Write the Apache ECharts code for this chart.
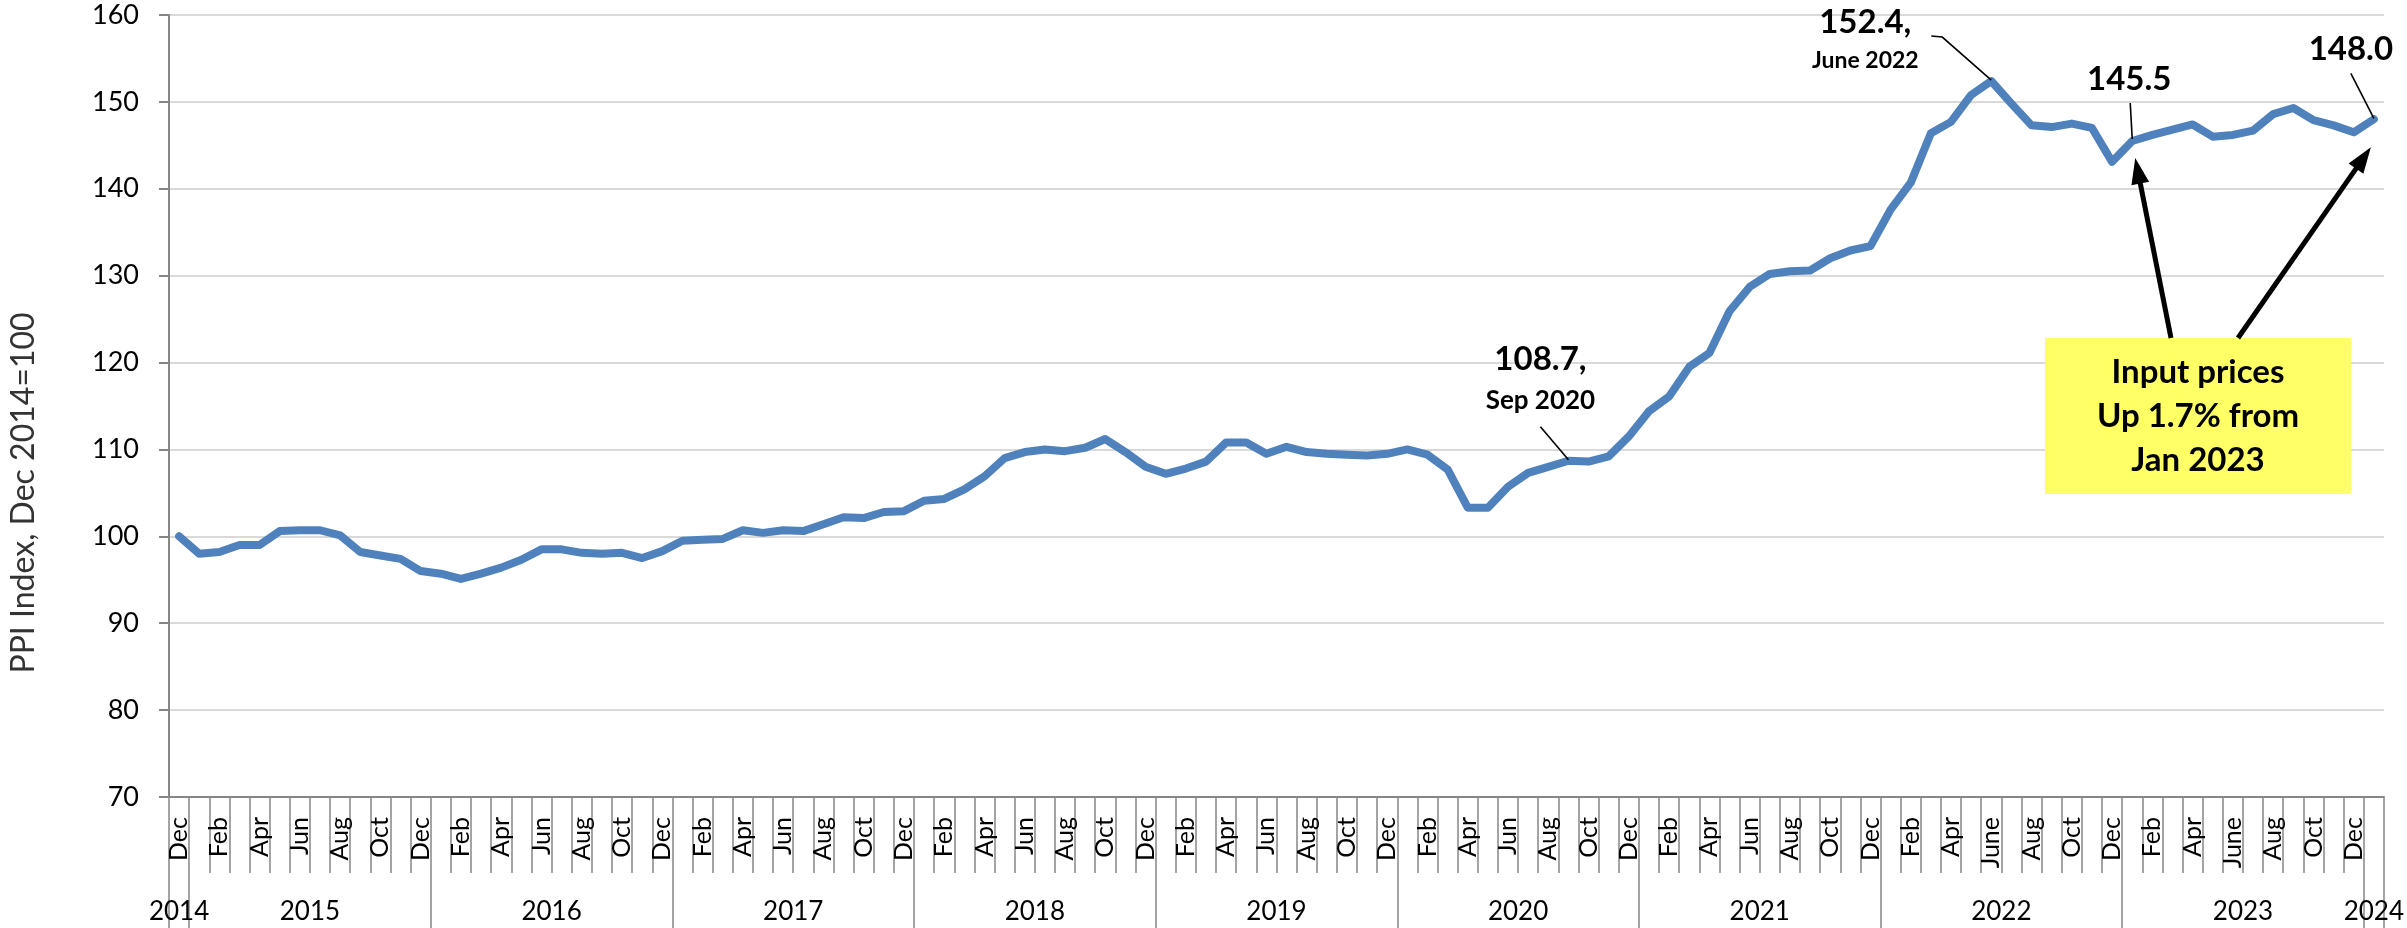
<!DOCTYPE html>
<html>
<head>
<meta charset="utf-8">
<title>PPI Index, Dec 2014=100</title>
<script src="https://cdn.jsdelivr.net/npm/echarts@6/dist/echarts.min.js"></script>
<style>
  html, body { margin: 0; padding: 0; background: #fff; }
  #chart { width: 2407px; height: 928px; }
</style>
</head>
<body>
<div id="chart"></div>
<script>
// monthly PPI index, Dec 2014 = 100
const ppi2014 = [100.0];
const ppi2015 = [98.0, 98.2, 99.0, 99.0, 100.6, 100.7, 100.7, 100.1, 98.2, 97.8, 97.4, 96.0];
const ppi2016 = [95.7, 95.1, 95.7, 96.4, 97.3, 98.5, 98.5, 98.1, 98.0, 98.1, 97.5, 98.3];
const ppi2017 = [99.5, 99.6, 99.7, 100.7, 100.4, 100.7, 100.6, 101.4, 102.2, 102.1, 102.8, 102.9];
const ppi2018 = [104.1, 104.3, 105.4, 106.9, 109.0, 109.7, 110.0, 109.8, 110.2, 111.2, 109.7, 108.0];
const ppi2019 = [107.2, 107.8, 108.6, 110.8, 110.8, 109.5, 110.3, 109.7, 109.5, 109.4, 109.3, 109.5];
const ppi2020 = [110.0, 109.4, 107.7, 103.3, 103.3, 105.7, 107.3, 108.0, 108.7, 108.6, 109.2, 111.5];
const ppi2021 = [114.4, 116.1, 119.5, 121.1, 125.9, 128.7, 130.2, 130.5, 130.6, 132.0, 132.9, 133.4];
const ppi2022 = [137.6, 140.7, 146.4, 147.7, 150.8, 152.4, 149.8, 147.3, 147.1, 147.5, 147.0, 143.1];
const ppi2023 = [145.5, 146.2, 146.8, 147.4, 146.0, 146.2, 146.7, 148.6, 149.3, 147.9, 147.3, 146.5];
const ppi2024 = [148.0];

const years = ['2014', '2015', '2016', '2017', '2018', '2019', '2020', '2021', '2022', '2023', '2024'];
const yearValues = [ppi2014, ppi2015, ppi2016, ppi2017, ppi2018, ppi2019, ppi2020, ppi2021, ppi2022, ppi2023, ppi2024];
const monthNames = ['Jan', 'Feb', 'Mar', 'Apr', 'May', 'Jun', 'Jul', 'Aug', 'Sep', 'Oct', 'Nov', 'Dec'];
const monthNamesLong = ['Jan', 'Feb', 'Mar', 'Apr', 'May', 'June', 'Jul', 'Aug', 'Sep', 'Oct', 'Nov', 'Dec'];
const longNameYears = ['2022', '2023'];
const yTicks = { min: 70, max: 160, step: 10 };

const categories = [];
const values = [];
const yearBounds = [0];
const yearCenters = [];
yearValues.forEach((arr, y) => {
  const firstMonth = y === 0 ? 11 : 0;
  const names = longNameYears.includes(years[y]) ? monthNamesLong : monthNames;
  arr.forEach((v, k) => {
    categories.push(names[firstMonth + k] + ' ' + years[y]);
    values.push(v);
  });
  const start = yearBounds[yearBounds.length - 1];
  yearBounds.push(start + arr.length);
  yearCenters.push(start + arr.length / 2);
});

const FONT = 'Lato, "Open Sans", sans-serif';
const axisGray = '#868686';

const chart = echarts.init(document.getElementById('chart'), null, { renderer: 'canvas' });

chart.setOption({
  animation: false,
  backgroundColor: '#fff',
  grid: { left: 165, right: 21, top: 15, bottom: 131, containLabel: false },
  xAxis: [
    {
      type: 'category',
      data: categories,
      boundaryGap: true,
      axisLine: { lineStyle: { color: axisGray, width: 2 } },
      axisTick: { show: true, interval: 0, length: 76, lineStyle: { color: axisGray, width: 1.5 } },
      axisLabel: {
        interval: (i) => i % 2 === 0,
        rotate: 90,
        margin: 20,
        fontFamily: FONT,
        fontSize: 25,
        color: '#000',
        formatter: (v) => v.split(' ')[0]
      },
      splitLine: { show: false }
    },
    {
      type: 'value',
      position: 'bottom',
      min: 0,
      max: yearBounds[yearBounds.length - 1],
      axisLine: { show: false },
      splitLine: { show: false },
      axisTick: { show: true, length: 131, customValues: yearBounds, lineStyle: { color: axisGray, width: 1.5 } },
      axisLabel: {
        customValues: yearCenters,
        margin: 102,
        fontFamily: FONT,
        fontSize: 26,
        color: '#000',
        formatter: (v) => years[yearCenters.indexOf(v)]
      }
    }
  ],
  yAxis: {
    type: 'value',
    min: yTicks.min,
    max: yTicks.max,
    interval: yTicks.step,
    name: 'PPI Index, Dec 2014=100',
    nameLocation: 'middle',
    nameGap: 129,
    nameTextStyle: { fontFamily: FONT, fontWeight: 'normal', fontSize: 32, color: '#333', padding: [0, 174, 0, 0] },
    axisLine: { show: true, lineStyle: { color: axisGray, width: 2 } },
    axisTick: { show: true, length: 10, lineStyle: { color: axisGray, width: 2 } },
    axisLabel: { margin: 30, fontFamily: FONT, fontSize: 27, color: '#000' },
    splitLine: { lineStyle: { color: '#D9D9D9', width: 2 } }
  },
  series: [{
    type: 'line',
    data: values,
    symbol: 'none',
    lineStyle: { color: '#4F81BD', width: 8, join: 'round', cap: 'round' },
    z: 3
  }]
});

// annotations, anchored to data points
const px = (i) => chart.convertToPixel({ xAxisIndex: 0, yAxisIndex: 0 }, [i, values[i]]);
const p69 = px(69), p90 = px(90), p97 = px(97), p109 = px(109);

function label(x, y, text, size) {
  return { type: 'text', x, y, z: 10, style: { text, font: 'bold ' + size + 'px ' + FONT, fill: '#000', align: 'center', verticalAlign: 'middle' } };
}
function leader(points) {
  return { type: 'polyline', z: 10, shape: { points }, style: { stroke: '#000', lineWidth: 1.6, fill: null } };
}
function arrow(from, to) {
  const dx = to[0] - from[0], dy = to[1] - from[1];
  const len = Math.hypot(dx, dy), ux = dx / len, uy = dy / len;
  const head = 26, half = 9;
  const base = [to[0] - ux * head, to[1] - uy * head];
  return [
    { type: 'line', z: 10, shape: { x1: from[0], y1: from[1], x2: base[0] + ux * 4, y2: base[1] + uy * 4 }, style: { stroke: '#000', lineWidth: 5 } },
    { type: 'polygon', z: 10, shape: { points: [to, [base[0] - uy * half, base[1] + ux * half], [base[0] + uy * half, base[1] - ux * half]] }, style: { fill: '#000' } }
  ];
}

const box = { x: 2045, y: 338, w: 306, h: 156 };

chart.setOption({
  graphic: [
    label(p69[0] - 28, p69[1] - 101, '108.7,', 33),
    label(p69[0] - 28, p69[1] - 60, 'Sep 2020', 26),
    leader([[p69[0] - 28, p69[1] - 34], [p69[0], p69[1] - 1]]),

    label(p90[0] - 126, p90[1] - 59, '152.4,', 33),
    label(p90[0] - 126, p90[1] - 20, 'June 2022', 23),
    leader([[p90[0] - 60, p90[1] - 45], [p90[0] - 49, p90[1] - 44], [p90[0], p90[1] - 1]]),

    label(p97[0] - 3, p97[1] - 62, '145.5', 33),
    leader([[p97[0] - 2, p97[1] - 38], [p97[0], p97[1] - 2]]),

    label(p109[0] - 23, p109[1] - 70, '148.0', 33),
    leader([[p109[0] - 23, p109[1] - 46], [p109[0], p109[1] - 1]]),

    { type: 'rect', z: 9, shape: { x: box.x, y: box.y, width: box.w, height: box.h }, style: { fill: '#FFFF66' } },
    {
      type: 'text', z: 10, x: box.x + box.w / 2, y: box.y + box.h / 2,
      style: { text: 'Input prices\nUp 1.7% from\nJan 2023', font: 'bold 33px ' + FONT, lineHeight: 44, fill: '#000', align: 'center', verticalAlign: 'middle' }
    },
    ...arrow([box.x + 126, box.y], [p97[0] + 3, p97[1] + 17]),
    ...arrow([box.x + 193, box.y], [p109[0] - 3, p109[1] + 28])
  ]
});
</script>
</body>
</html>
